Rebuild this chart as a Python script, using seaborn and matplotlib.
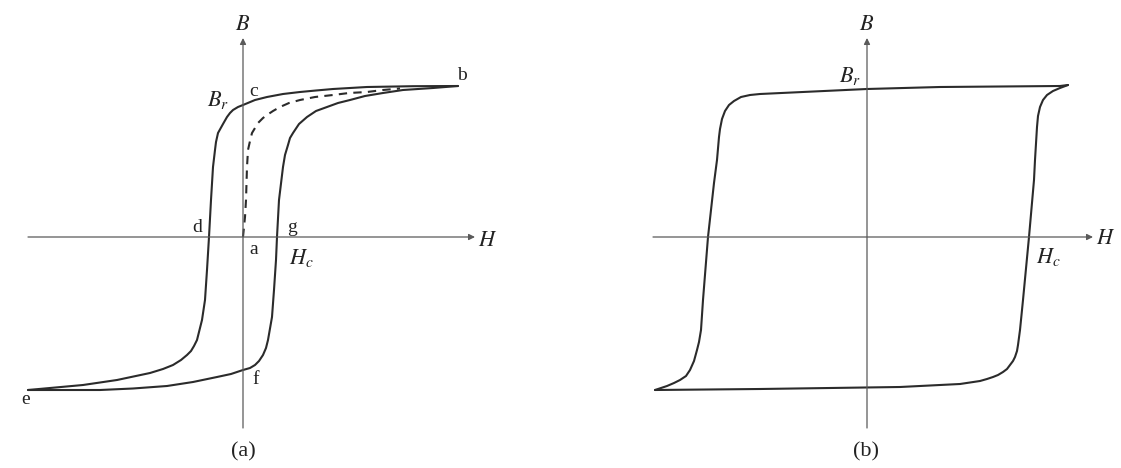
import matplotlib
matplotlib.use("Agg")
import matplotlib.pyplot as plt
import seaborn as sns

# ---- (a) soft magnetic material: initial curve and hysteresis loop ----
# descending branch b -> c (Br) -> d -> e
a_desc_H = [21.5, 17.0, 12.4, 9.0, 7.3, 5.7, 4.0, 2.4, 1.2, 0.0, -0.5, -1.0, -1.3, -1.6,
            -2.0, -2.5, -2.7, -2.8, -3.0, -3.2, -3.4, -3.6, -3.8, -4.1, -4.6, -4.9,
            -5.2, -5.6, -6.2, -7.0, -8.0, -9.3, -12.6, -16.0, -19.3, -21.5]
a_desc_B = [15.1, 15.08, 15.0, 14.8, 14.65, 14.5, 14.3, 14.0, 13.7, 13.2, 13.0, 12.7, 12.4, 12.0,
            11.3, 10.4, 9.5, 8.7, 7.0, 3.7, 0.0, -3.3, -6.3, -8.3, -10.3, -10.9,
            -11.4, -11.8, -12.3, -12.8, -13.2, -13.6, -14.3, -14.8, -15.1, -15.3]
# ascending branch e -> f -> g (Hc) -> b
a_asc_H = [-21.5, -18.0, -14.3, -11.0, -7.6, -5.0, -2.6, -1.2, 0.0, 0.7, 1.2, 1.6, 2.0,
           2.3, 2.5, 2.9, 3.1, 3.3, 3.4, 3.6, 4.0, 4.2, 4.5, 4.7, 5.0, 5.6, 6.4, 7.3,
           8.4, 9.5, 10.7, 12.2, 14.0, 16.0, 19.0, 21.5]
a_asc_B = [-15.3, -15.3, -15.3, -15.15, -14.9, -14.5, -14.0, -13.7, -13.3, -13.1, -12.8, -12.4, -11.8,
           -11.1, -10.3, -8.0, -5.3, -2.3, 0.0, 3.7, 7.0, 8.2, 9.2, 9.9, 10.4, 11.3, 12.0, 12.6,
           13.0, 13.4, 13.7, 14.1, 14.4, 14.7, 14.9, 15.1]
# initial magnetisation curve a -> b (dashed)
a_init_H = [0.0, 0.2, 0.3, 0.4, 0.5, 0.7, 0.9, 1.2, 1.5, 2.0, 2.4, 3.0, 3.7, 4.6,
            5.7, 7.2, 9.0, 10.6, 12.4, 14.0, 15.7]
a_init_B = [0.0, 2.0, 3.7, 7.0, 8.7, 9.6, 10.4, 10.9, 11.4, 11.9, 12.2, 12.6, 13.0, 13.4,
            13.7, 14.0, 14.2, 14.4, 14.5, 14.7, 14.85]

# ---- (b) hard / square-loop material ----
b_desc_H = [20.1, 19.3, 7.3, 0.0, -10.7, -11.7, -12.6, -13.3, -13.8, -14.2, -14.5, -14.7,
            -14.8, -15.0, -15.3, -15.9, -16.4, -16.6, -16.8, -17.0, -17.3, -17.7, -18.1,
            -18.7, -19.3, -20.0, -21.2]
b_desc_B = [15.2, 15.1, 15.0, 14.8, 14.3, 14.2, 14.0, 13.6, 13.2, 12.6, 11.8, 10.8,
            10.0, 7.7, 5.4, 0.0, -6.3, -9.3, -10.5, -11.3, -12.4, -13.3, -13.9,
            -14.3, -14.6, -14.9, -15.3]
b_asc_H = [-21.2, -10.7, 3.3, 9.3, 10.3, 11.3, 12.0, 12.6, 13.1, 13.6, 14.0, 14.3, 14.6,
           14.8, 15.0, 15.1, 15.3, 15.6, 16.2, 16.7, 16.8, 17.0, 17.1, 17.3, 17.6, 18.0,
           18.6, 19.3, 20.1]
b_asc_B = [-15.3, -15.2, -15.0, -14.7, -14.55, -14.4, -14.2, -14.0, -13.8, -13.5, -13.2, -12.8, -12.4,
           -12.0, -11.4, -10.8, -9.3, -6.3, 0.0, 5.7, 7.7, 11.0, 12.1, 13.0, 13.7, 14.2,
           14.6, 14.9, 15.2]

LINE = "#2b2b2b"
AXIS = "#5a5a5a"

sns.set_theme(style="white")
plt.rcParams["mathtext.fontset"] = "stix"
plt.rcParams["font.family"] = ["Liberation Serif", "DejaVu Serif"]

fig = plt.figure(figsize=(11.21, 4.68), dpi=100)
fig.patch.set_facecolor("white")
ax_a = fig.add_axes([0, 0, 560 / 1121, 1])
ax_b = fig.add_axes([560 / 1121, 0, 561 / 1121, 1])
ax_a.set_xlim(-24.3, 31.7)
ax_b.set_xlim(-30.7, 25.4)
for ax in (ax_a, ax_b):
    ax.set_ylim(-23.1, 23.7)
    ax.set_axis_off()


def draw_axes(ax, h0, h1, b0, b1):
    arrow = dict(arrowstyle="-|>", color=AXIS, lw=0.9, mutation_scale=9,
                 shrinkA=0, shrinkB=0)
    ax.annotate("", xy=(h1, 0), xytext=(h0, 0), arrowprops=arrow)
    ax.annotate("", xy=(0, b1), xytext=(0, b0), arrowprops=arrow)


draw_axes(ax_a, -21.5, 23.2, -19.1, 19.9)
draw_axes(ax_b, -21.4, 22.6, -19.1, 19.9)

curve = dict(color=LINE, lw=1.5, sort=False, estimator=None)
sns.lineplot(x=a_desc_H, y=a_desc_B, ax=ax_a, **curve)
sns.lineplot(x=a_asc_H, y=a_asc_B, ax=ax_a, **curve)
sns.lineplot(x=a_init_H, y=a_init_B, ax=ax_a, linestyle=(0, (4, 3)), **curve)
sns.lineplot(x=b_desc_H, y=b_desc_B, ax=ax_b, **curve)
sns.lineplot(x=b_asc_H, y=b_asc_B, ax=ax_b, **curve)

big = dict(fontsize=16, ha="center", va="center", color="#222222")
small = dict(fontsize=14, ha="center", va="center", color="#222222")
caption = dict(fontsize=16, ha="center", va="center", color="#222222")

# panel (a) labels
ax_a.text(0.0, 21.2, r"$B$", **big)
ax_a.text(24.5, -0.4, r"$H$", **big)
ax_a.text(-2.5, 13.7, r"$B_r$", **big)
ax_a.text(5.8, -2.1, r"$H_c$", **big)
ax_a.text(1.1, 14.6, "c", **small)
ax_a.text(21.9, 16.1, "b", **small)
ax_a.text(-4.6, 1.0, "d", **small)
ax_a.text(4.9, 0.9, "g", **small)
ax_a.text(1.1, -1.2, "a", **small)
ax_a.text(1.3, -14.3, "f", **small)
ax_a.text(-21.7, -16.3, "e", **small)
ax_a.text(0.0, -21.5, "(a)", **caption)

# panel (b) labels
ax_b.text(0.0, 21.2, r"$B$", **big)
ax_b.text(23.9, -0.3, r"$H$", **big)
ax_b.text(-1.7, 16.1, r"$B_r$", **big)
ax_b.text(18.1, -2.0, r"$H_c$", **big)
ax_b.text(-0.1, -21.5, "(b)", **caption)

fig.savefig("out.png", dpi=100, facecolor="white")
